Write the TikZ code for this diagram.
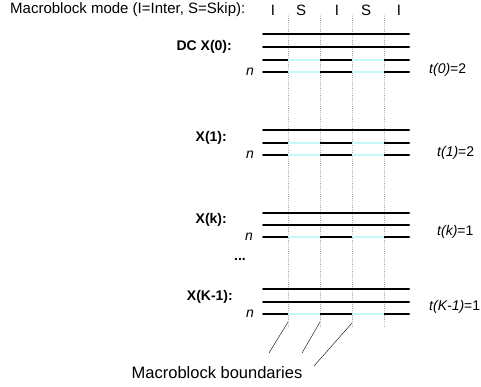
\documentclass[tikz,border=0pt]{standalone}
\usepackage{fontspec}
\setmainfont{Liberation Sans}
\usepackage{tikz}
\usepackage{tkz-euclide}
\usetikzlibrary{positioning}
\definecolor{accent}{rgb}{0.45,0.45,0.45}
\definecolor{skipedge}{rgb}{0.45,0.8,0.82}
\definecolor{skipfill}{rgb}{0.78,0.97,0.97}

\begin{document}
\begin{tikzpicture}[
  x=1pt, y=-1pt,
  row/.style = {line width=2pt, black},
  boundary/.style = {dotted, line width=0.5pt, color=accent},
  skip/.style = {draw=skipedge, line width=0.5pt, double=skipfill, double distance=1.4pt},
  pointer/.style = {thin, black},
  rowlabel/.style = {inner sep=0pt, font=\fontsize{14}{16}\selectfont\bfseries},
  rowindex/.style = {inner sep=0pt, font=\fontsize{14}{16}\selectfont\itshape},
  tval/.style = {inner sep=0pt, anchor=west, font=\fontsize{14}{16}\selectfont},
  caption/.style = {inner sep=0pt, font=\fontsize{15}{18}\selectfont},
]
  \useasboundingbox (0,0) rectangle (481,387);

  % macroblock boundaries
  \tkzDefPoint(288,16){u1}
  \tkzDefPoint(320,16){u2}
  \tkzDefPoint(352,16){u3}
  \tkzDefPoint(384,16){u4}
  \tkzDefPoint(288,327){w1}
  \tkzDefPoint(320,327){w2}
  \tkzDefPoint(352,327){w3}
  \tkzDefPoint(384,327){w4}

  % DC X(0)
  \tkzDefPoint(263,34){a1l} \tkzDefPoint(409,34){a1r}
  \tkzDefPoint(263,47){a2l} \tkzDefPoint(409,47){a2r}
  \tkzDefPoint(263,60){a3l} \tkzDefPoint(409,60){a3r}
  \tkzDefPoint(263,72){a4l} \tkzDefPoint(409,72){a4r}
  % X(1)
  \tkzDefPoint(263,130){b1l} \tkzDefPoint(409,130){b1r}
  \tkzDefPoint(263,143){b2l} \tkzDefPoint(409,143){b2r}
  \tkzDefPoint(263,155){b3l} \tkzDefPoint(409,155){b3r}
  % X(k)
  \tkzDefPoint(263,213){c1l} \tkzDefPoint(409,213){c1r}
  \tkzDefPoint(263,225){c2l} \tkzDefPoint(409,225){c2r}
  \tkzDefPoint(263,237){c3l} \tkzDefPoint(409,237){c3r}
  % X(K-1)
  \tkzDefPoint(263,289){d1l} \tkzDefPoint(409,289){d1r}
  \tkzDefPoint(263,302){d2l} \tkzDefPoint(409,302){d2r}
  \tkzDefPoint(263,314){d3l} \tkzDefPoint(409,314){d3r}

  \tkzDrawSegments[boundary](u1,w1 u2,w2 u3,w3 u4,w4)

  \tkzDrawSegments[row](a1l,a1r a2l,a2r a3l,a3r a4l,a4r)
  \tkzDrawSegments[row](b1l,b1r b2l,b2r b3l,b3r)
  \tkzDrawSegments[row](c1l,c1r c2l,c2r c3l,c3r)
  \tkzDrawSegments[row](d1l,d1r d2l,d2r d3l,d3r)

  % skipped macroblocks
  \draw[skip] (a3l -| u1) -- (a3l -| u2) (a3l -| u3) -- (a3l -| u4);
  \draw[skip] (a4l -| u1) -- (a4l -| u2) (a4l -| u3) -- (a4l -| u4);
  \draw[skip] (b2l -| u1) -- (b2l -| u2) (b2l -| u3) -- (b2l -| u4);
  \draw[skip] (b3l -| u1) -- (b3l -| u2) (b3l -| u3) -- (b3l -| u4);
  \draw[skip] (c3l -| u1) -- (c3l -| u2) (c3l -| u3) -- (c3l -| u4);
  \draw[skip] (d3l -| u1) -- (d3l -| u2) (d3l -| u3) -- (d3l -| u4);

  % header
  \node[caption, anchor=west] (mode) at (10,10) {Macroblock mode (I=Inter, S=Skip):};
  \node[caption] (m1) at (273,10) {I};
  \node[caption] (m2) at (301,10) {S};
  \node[caption] (m3) at (337,10) {I};
  \node[caption] (m4) at (366,10) {S};
  \node[caption] (m5) at (399,10) {I};

  \node[rowlabel, anchor=east] (x0) at (232,47) {DC X(0):};
  \node[rowlabel, anchor=east] (x1) at (227,138) {X(1):};
  \node[rowlabel, anchor=east] (xk) at (227,220) {X(k):};
  \node[rowlabel, anchor=east] (xK) at (233,297) {X(K-1):};
  \node[rowlabel] (dots) at (240,259) {...};

  \node[rowindex] (n0) at (250,72) {n};
  \node[rowindex] (n1) at (250,155) {n};
  \node[rowindex] (nk) at (249,237) {n};
  \node[rowindex] (nK) at (250,314) {n};

  \node[tval] (t0) at (429,70) {\textit{t(0)}=2};
  \node[tval] (t1) at (437,153) {\textit{t(1)}=2};
  \node[tval] (tk) at (437,232) {\textit{t(k)}=1};
  \node[tval] (tK) at (429,307) {\textit{t(K-1)}=1};

  % pointers to the boundaries
  \node[caption, font=\fontsize{16.5}{19}\selectfont] (mbb) at (217,373) {Macroblock boundaries};
  \tkzDefPoint(288,322){q1} \tkzDefPoint(269,353){p1}
  \tkzDefPoint(320,322){q2} \tkzDefPoint(302,353){p2}
  \tkzDefPoint(352,323){q3} \tkzDefPoint(314,366){p3}
  \tkzDrawSegments[pointer](q1,p1 q2,p2 q3,p3)

\end{tikzpicture}
\end{document}
